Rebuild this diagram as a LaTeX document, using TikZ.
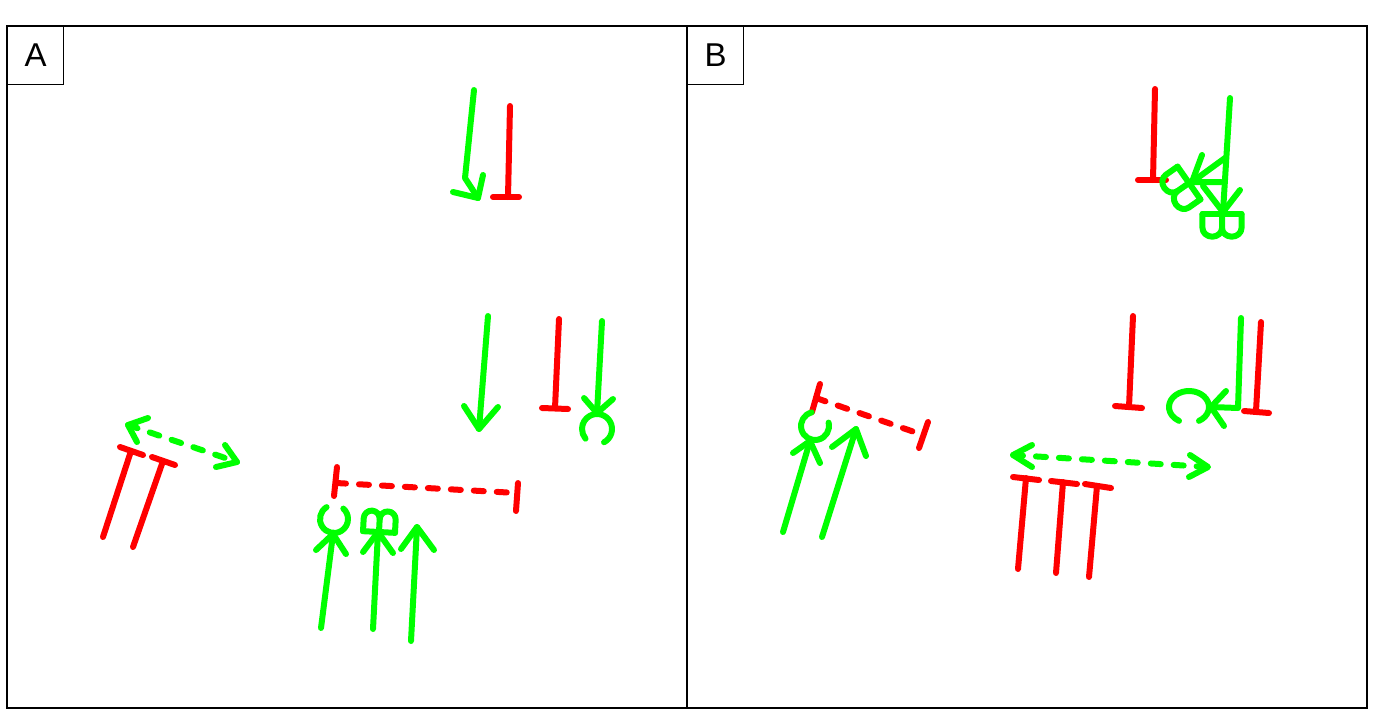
\documentclass[tikz,border=0pt]{standalone}
\usepackage{fontspec}
\setmainfont{Liberation Sans}
\definecolor{actgreen}{RGB}{0, 255, 0}
\definecolor{inhred}{RGB}{255, 0, 0}
\usetikzlibrary{calc}

\tikzset{
  pics/bglyph/.style={code={
    \draw[act] (-16,0) -- (16,0);
    \draw[act] (-16,0) -- (-16,-13) arc[start angle=180, end angle=360, radius=8] -- (0,0);
    \draw[act] (0,-13) arc[start angle=180, end angle=360, radius=8] -- (16,0);
  }}
}

\begin{document}
\begin{tikzpicture}[x=1pt, y=-1pt,
  act/.style={draw=actgreen, line width=6pt, line cap=round, line join=round},
  inh/.style={draw=inhred, line width=6pt, line cap=round, line join=round},
  dashline/.style={dash pattern=on 10pt off 13pt},
  frame/.style={draw=black, line width=1.2pt},
  panel label/.style={draw, line width=1.2pt, anchor=north west, minimum width=56pt, minimum height=58pt, inner sep=0pt, font=\fontsize{33}{38}\selectfont}]

  \useasboundingbox (0,0) rectangle (1400,720);
  \fill[white] (0,0) rectangle (1400,720);

  % Panels
  \draw[frame] (7,26) rectangle (687,708);
  \draw[frame] (687,26) rectangle (1367,708);
  \node[panel label] (labA) at (7,26) {A};
  \node[panel label] (labB) at (687,26) {B};

  % Panel A: inhibitions
  \draw[inh] (510,106) -- (508,197);
  \draw[inh] (493,197) -- (519,197);
  \draw[inh] (559,319) -- (555,408);
  \draw[inh] (542,408) -- (568,409);
  \draw[inh] (103,537) -- (131,451);
  \draw[inh] (120,447) -- (143,455);
  \draw[inh] (133,547) -- (163,461);
  \draw[inh] (152,457) -- (175,465);
  \draw[inh, dashline] (336,483) -- (517,493);
  \draw[inh] (337,467) -- (334,496);
  \draw[inh] (518,483) -- (516,511);

  % Panel A: activations
  \draw[act] (474,90) -- (465,178) -- (478,198);
  \draw[act] (453,192) -- (478,198) -- (483,175);
  \draw[act] (488,316) -- (479,429);
  \draw[act] (464,406) -- (479,429) -- (498,407);
  \draw[act] (602,321) -- (597,413);
  \draw[act] (584,398) -- (597,413) -- (613,399);
  \draw[act] (597,429) ++(-298:15) arc[start angle=-298, end angle=-580, radius=15];
  \draw[act, dashline] (128,425) -- (237,462);
  \draw[act] (148,418) -- (128,425) -- (137,442);
  \draw[act] (225,445) -- (237,462) -- (216,467);
  \draw[act] (321,628) -- (333,534);
  \draw[act] (316,550) -- (333,534) -- (346,554);
  \draw[act] (334,519) ++(-122:14) arc[start angle=-122, end angle=-408, radius=14];
  \draw[act] (373,629) -- (378,532);
  \draw[act] (363,552) -- (378,532) -- (393,553);
  \pic[rotate=-3] at (379,532) {bglyph};
  \draw[act] (411,641) -- (417,527);
  \draw[act] (401,549) -- (417,527) -- (434,550);

  % Panel B: inhibitions
  \draw[inh] (1155,89) -- (1153,180);
  \draw[inh] (1138,180) -- (1166,180);
  \draw[inh] (1133,316) -- (1129,407);
  \draw[inh] (1115,406) -- (1142,408);
  \draw[inh] (1261,322) -- (1256,411);
  \draw[inh] (1244,411) -- (1269,413);
  \draw[inh, dashline] (816,398) -- (923,435);
  \draw[inh] (820,384) -- (812,412);
  \draw[inh] (928,422) -- (919,448);
  \draw[inh] (1018,569) -- (1026,478);
  \draw[inh] (1013,477) -- (1039,480);
  \draw[inh] (1056,573) -- (1063,482);
  \draw[inh] (1051,481) -- (1077,484);
  \draw[inh] (1089,577) -- (1097,486);
  \draw[inh] (1085,484) -- (1111,488);

  % Panel B: activations
  \draw[act] (1230,98) -- (1223,212);
  \draw[act] (1203,186) -- (1223,212) -- (1240,190);
  \pic[rotate=180, xscale=1.22, yscale=1.08] at (1222,214) {bglyph};
  \draw[act] (1225,158) -- (1192,182);
  \draw[act] (1202,155) -- (1192,182) -- (1221,182);
  \pic[rotate=125, xscale=1.25, yscale=1.1] at (1189,183) {bglyph};
  \draw[act] (1241,318) -- (1238,408) -- (1211,407);
  \draw[act] (1226,391) -- (1211,407) -- (1224,426);
  \draw[act] (1189,407) ++(-300:20 and 16) arc[start angle=-300, end angle=-600, x radius=20, y radius=16];
  \draw[act] (783,532) -- (810,441);
  \draw[act] (793,453) -- (810,441) -- (820,463);
  \draw[act] (815,426) ++(-104:14) arc[start angle=-104, end angle=-374, radius=14];
  \draw[act] (822,537) -- (856,429);
  \draw[act] (832,447) -- (856,429) -- (866,456);
  \draw[act, dashline] (1013,455) -- (1208,467);
  \draw[act] (1032,445) -- (1013,455) -- (1032,467);
  \draw[act] (1190,455) -- (1208,467) -- (1189,477);
\end{tikzpicture}
\end{document}
